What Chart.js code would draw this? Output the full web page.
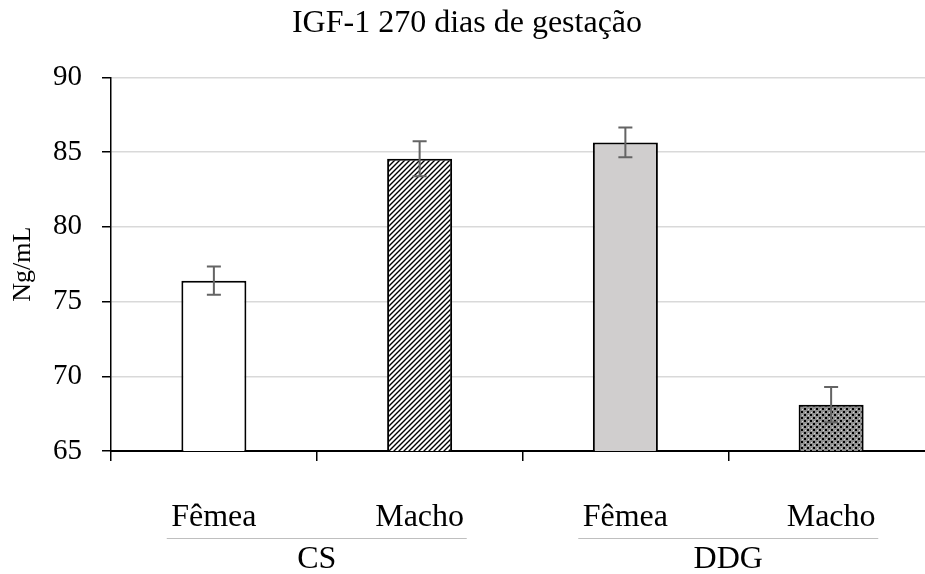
<!DOCTYPE html>
<html>
<head>
<meta charset="utf-8">
<script src="https://cdn.jsdelivr.net/npm/chart.js@4"></script>
<style>
html, body { margin: 0; padding: 0; background: #fff; overflow: hidden; }
#wrap { position: relative; width: 935px; height: 574px; }
</style>
</head>
<body>
<div id="wrap"><canvas id="chart"></canvas></div>
<script>
// values
var subLabels = ['Fêmea', 'Macho', 'Fêmea', 'Macho']
var groupLabels = ['CS', 'DDG']
var igfMean = [76.4, 84.55, 85.65, 68.1]
var igfError = [0.94, 1.17, 1.0, 1.18]
var yTicks = [65, 70, 75, 80, 85, 90]

var serif = '"Liberation Serif", "Times New Roman", serif'

// bar fills
function hatchPattern() {
  var c = document.createElement('canvas')
  c.width = 5
  c.height = 5
  var g = c.getContext('2d')
  g.fillStyle = '#fff'
  g.fillRect(0, 0, 5, 5)
  g.strokeStyle = '#000'
  g.lineWidth = 1.4
  g.beginPath()
  g.moveTo(-1, 6); g.lineTo(6, -1)
  g.moveTo(-1, 1); g.lineTo(1, -1)
  g.moveTo(4, 6); g.lineTo(6, 4)
  g.stroke()
  return g.createPattern(c, 'repeat')
}

function checkerPattern() {
  var c = document.createElement('canvas')
  c.width = 6
  c.height = 6
  var g = c.getContext('2d')
  g.fillStyle = '#8f8f8f'
  g.fillRect(0, 0, 6, 6)
  g.fillStyle = '#000'
  g.fillRect(0, 0, 2, 2)
  g.fillRect(3, 3, 2, 2)
  g.fillStyle = '#d6d6d6'
  g.fillRect(4, 1, 1, 1)
  g.fillRect(1, 4, 1, 1)
  return g.createPattern(c, 'repeat')
}

var errorBars = {
  id: 'errorBars',
  afterDatasetsDraw: function (chart) {
    var ctx = chart.ctx
    var meta = chart.getDatasetMeta(0)
    var y = chart.scales.y
    ctx.save()
    ctx.strokeStyle = '#646464'
    ctx.lineWidth = 2
    for (var i = 0; i < igfMean.length; i++) {
      var x = meta.data[i].x
      var top = y.getPixelForValue(igfMean[i] + igfError[i])
      var bottom = y.getPixelForValue(igfMean[i] - igfError[i])
      ctx.beginPath()
      ctx.moveTo(x, top); ctx.lineTo(x, bottom)
      ctx.moveTo(x - 7, top); ctx.lineTo(x + 7, top)
      ctx.moveTo(x - 7, bottom); ctx.lineTo(x + 7, bottom)
      ctx.stroke()
    }
    ctx.restore()
  }
}

// second row of the category axis (CS / DDG)
var groupAxis = {
  id: 'groupAxis',
  afterDraw: function (chart) {
    var ctx = chart.ctx
    var xs = chart.scales.x
    ctx.save()
    ctx.font = '32px ' + serif
    ctx.textAlign = 'center'
    ctx.textBaseline = 'middle'
    ctx.fillStyle = '#000'
    ctx.strokeStyle = '#bfbfbf'
    ctx.lineWidth = 1
    for (var g = 0; g < groupLabels.length; g++) {
      var c = (xs.getPixelForValue(g * 2) + xs.getPixelForValue(g * 2 + 1)) / 2
      ctx.beginPath()
      ctx.moveTo(c - 150, xs.top + 87.5)
      ctx.lineTo(c + 150, xs.top + 87.5)
      ctx.stroke()
      ctx.fillText(groupLabels[g], c, xs.top + 109)
    }
    ctx.restore()
  }
}

new Chart(document.getElementById('chart'), {
  type: 'bar',
  data: {
    labels: subLabels,
    datasets: [{
      data: igfMean,
      backgroundColor: ['#ffffff', hatchPattern(), '#d0cece', checkerPattern()],
      borderColor: '#000',
      borderWidth: 2,
      categoryPercentage: 1,
      barPercentage: 0.316
    }]
  },
  options: {
    responsive: true,
    maintainAspectRatio: false,
    animation: false,
    layout: { padding: { left: 0, right: 1, top: 0, bottom: 0 } },
    plugins: {
      legend: { display: false },
      tooltip: { enabled: false },
      title: {
        display: true,
        text: 'IGF-1 270 dias de gestação',
        color: '#000',
        font: { family: serif, size: 32, weight: 'normal' },
        padding: { top: 4, bottom: 35 }
      }
    },
    scales: {
      x: {
        offset: true,
        border: { color: '#000', width: 2 },
        grid: { display: true, drawOnChartArea: false, offset: true, color: '#000', lineWidth: 1.5, tickLength: 10 },
        ticks: { color: '#000', font: { family: serif, size: 32 }, padding: 37, maxRotation: 0, autoSkip: false },
        afterFit: function (scale) { scale.height = 123 }
      },
      y: {
        min: 65,
        max: 90,
        border: { color: '#000', width: 1.5 },
        grid: { color: '#d9d9d9', lineWidth: 1.5, tickColor: '#000', tickLength: 9 },
        ticks: { color: '#000', font: { family: serif, size: 29 }, padding: 20 },
        afterBuildTicks: function (scale) {
          scale.ticks = yTicks.map(function (v) { return { value: v } })
        },
        title: {
          display: true,
          text: 'Ng/mL',
          color: '#000',
          font: { family: serif, size: 26 },
          padding: { top: 8, bottom: 0 }
        },
        afterFit: function (scale) { scale.width = 111 }
      }
    }
  },
  plugins: [errorBars, groupAxis]
})
</script>
</body>
</html>
